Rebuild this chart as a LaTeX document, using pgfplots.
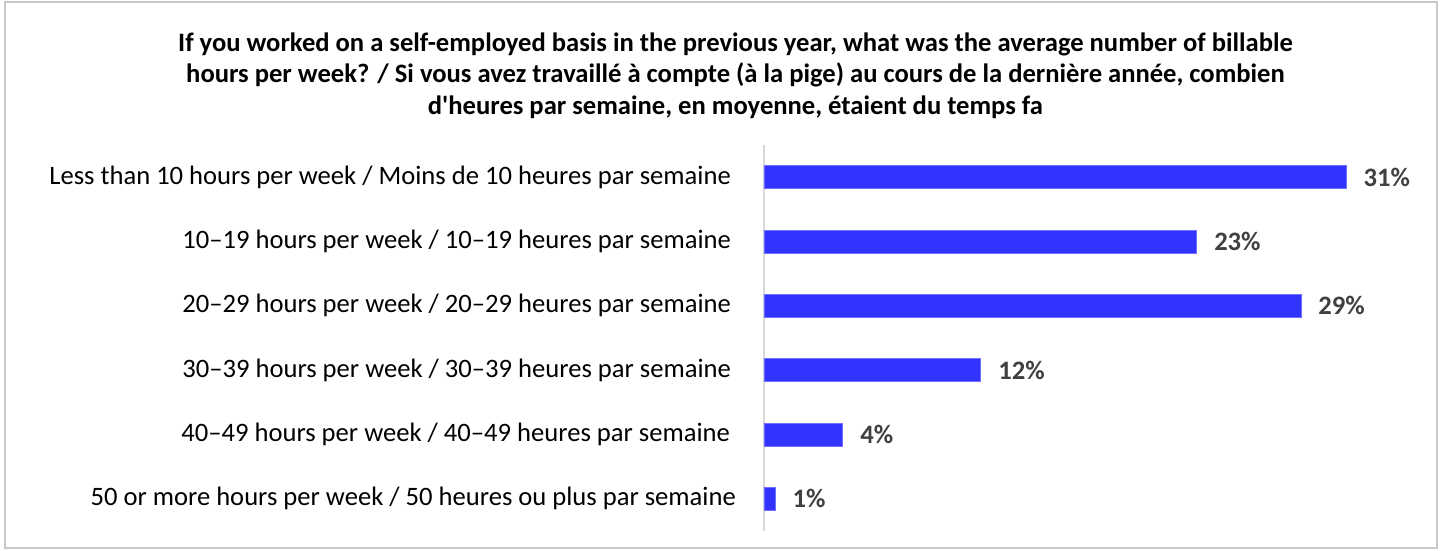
\documentclass[border=0pt]{standalone}
\usepackage{fontspec}
\setmainfont{Carlito}
\usepackage{pgfplots}
\pgfplotsset{compat=1.18}
\definecolor{barblue}{HTML}{3333FF}
\definecolor{vallab}{HTML}{404040}
\definecolor{framegray}{HTML}{C8C8C8}
\definecolor{axgray}{HTML}{D9D9D9}
\begin{document}
\begin{tikzpicture}[x=1pt,y=1pt]
\path[use as bounding box] (0,0) rectangle (1443,-550);
\draw[framegray, line width=2pt] (5,-1.5) rectangle (1437,-548);
\node[align=center, font=\bfseries\fontsize{26.6}{31.5}\selectfont, text=black] at (735.5,-75.5)
{If you worked on a self-employed basis in the previous year, what was the average number of billable\\
hours per week? / Si vous avez travaillé à compte (à la pige) au cours de la dernière année, combien\\
d\textquotesingle heures par semaine, en moyenne, étaient du temps fa};
\begin{axis}[
  at={(764pt,-145pt)}, anchor=north west,
  scale only axis, width=658pt, height=386pt,
  xmin=0, xmax=35.04, ymin=-0.5, ymax=5.5,
  y dir=reverse,
  axis x line=none,
  axis y line*=left,
  y axis line style={axgray, line width=1.5pt, -},
  ytick={0,1,2,3,4,5},
  yticklabels={Less than 10 hours per week / Moins de 10 heures par semaine,
  10--19 hours per week / 10--19 heures par semaine,
  20--29 hours per week / 20--29 heures par semaine,
  30--39 hours per week / 30--39 heures par semaine,
  40--49 hours per week / 40--49 heures par semaine\kern1pt\relax,
  50 or more hours per week / 50 heures ou plus par semaine\kern-5pt\relax},
  major tick length=0pt,
  yticklabel style={font=\fontsize{26.6}{30}\selectfont, text=black, anchor=east, inner sep=0pt, xshift=-33pt},
  xbar, bar width=23pt, bar shift=0pt,
  point meta=explicit symbolic,
  nodes near coords,
  nodes near coords style={font=\bfseries\fontsize{26.6}{30}\selectfont, text=vallab, anchor=west, inner sep=0pt, xshift=17pt},
  clip=false,
]
\addplot[fill=barblue, draw=barblue!70!white, line width=0.8pt] coordinates {
(31,0) [31\%]
(23.05,1) [23\%]
(28.6,2) [29\%]
(11.55,3) [12\%]
(4.2,4) [4\%]
(0.6,5) [1\%]
};
\end{axis}
\end{tikzpicture}
\end{document}
